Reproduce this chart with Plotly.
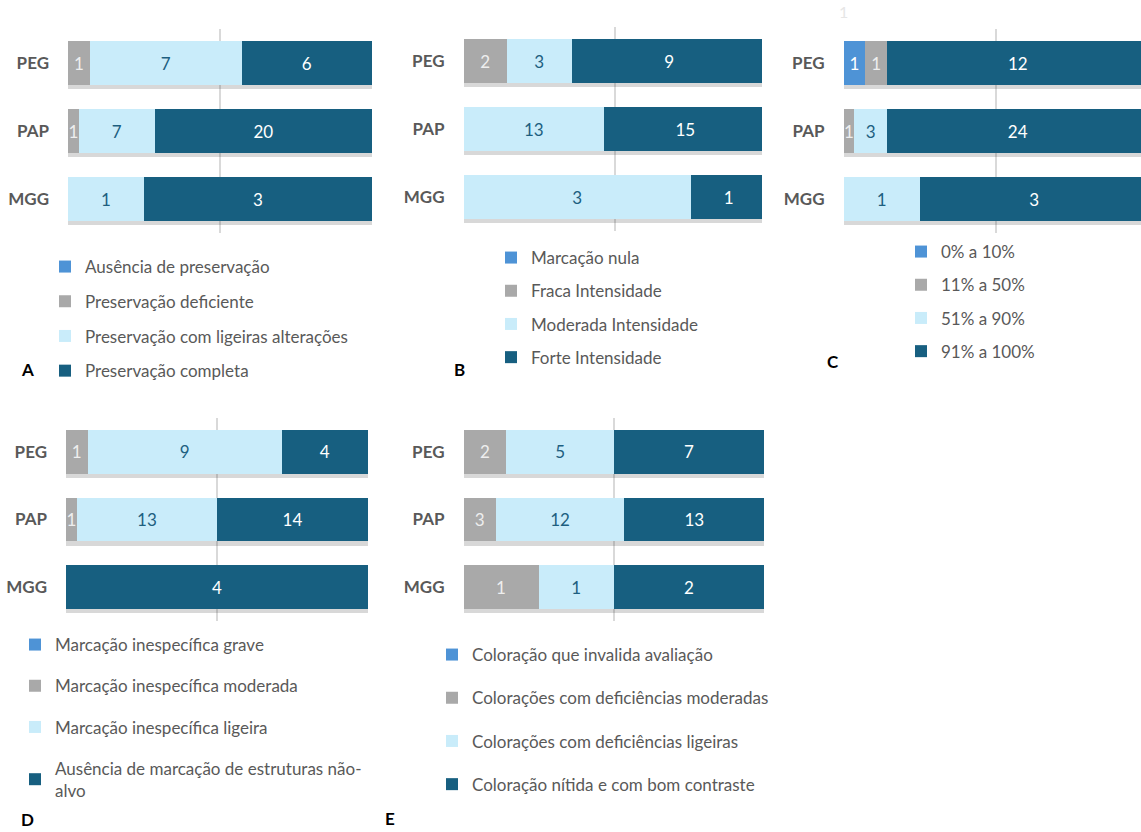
import plotly.graph_objects as go

W, H = 1141, 832
FONT = "Lato"
TEXT_GREY = "#595959"

# Rows of every panel, listed top to bottom
groups = ["PEG", "PAP", "MGG"]

# Segment colours: blue, grey, light blue, dark blue
colors = ["#4E93D6", "#A9A9A9", "#C9ECFA", "#175F80"]
label_colors = ["#FFFFFF", "#EEEEEE", "#1D5F80", "#FFFFFF"]

# Panel A
a_names = ["Ausência de preservação", "Preservação deficiente",
           "Preservação com ligeiras alterações", "Preservação completa"]
a_blue = [0, 0, 0]
a_grey = [1, 1, 0]
a_light = [7, 7, 1]
a_dark = [6, 20, 3]

# Panel B
b_names = ["Marcação nula", "Fraca Intensidade",
           "Moderada Intensidade", "Forte Intensidade"]
b_blue = [0, 0, 0]
b_grey = [2, 0, 0]
b_light = [3, 13, 3]
b_dark = [9, 15, 1]

# Panel C
c_names = ["0% a 10%", "11% a 50%", "51% a 90%", "91% a 100%"]
c_blue = [1, 0, 0]
c_grey = [1, 1, 0]
c_light = [0, 3, 1]
c_dark = [12, 24, 3]

# Panel D
d_names = ["Marcação inespecífica grave", "Marcação inespecífica moderada",
           "Marcação inespecífica ligeira",
           "Ausência de marcação de estruturas não-<br>alvo"]
d_blue = [0, 0, 0]
d_grey = [1, 1, 0]
d_light = [9, 13, 0]
d_dark = [4, 14, 4]

# Panel E
e_names = ["Coloração que invalida avaliação",
           "Colorações com deficiências moderadas",
           "Colorações com deficiências ligeiras",
           "Coloração nítida e com bom contraste"]
e_blue = [0, 0, 0]
e_grey = [2, 3, 1]
e_light = [5, 12, 1]
e_dark = [7, 13, 2]

panels = [
    dict(tag="A", names=a_names, series=[a_blue, a_grey, a_light, a_dark],
         xpx=(68, 372), xmax=100, ypx=(29, 233),
         leg=(45, 249), gap=9.6, letter=(27, 369)),
    dict(tag="B", names=b_names, series=[b_blue, b_grey, b_light, b_dark],
         xpx=(463.5, 762), xmax=100 * (762 - 463.5) / 303, ypx=(27, 231),
         leg=(491, 240), gap=8.1, letter=(459, 369)),
    dict(tag="C", names=c_names, series=[c_blue, c_grey, c_light, c_dark],
         xpx=(843.5, 1141), xmax=100 * (1141 - 843.5) / 305, ypx=(29, 233),
         leg=(901, 234), gap=8.1, letter=(833, 361)),
    dict(tag="D", names=d_names, series=[d_blue, d_grey, d_light, d_dark],
         xpx=(66, 368), xmax=100, ypx=(418, 621),
         leg=(15, 627), gap=16.1, letter=(27, 819)),
    dict(tag="E", names=e_names, series=[e_blue, e_grey, e_light, e_dark],
         xpx=(463.5, 764), xmax=100, ypx=(418, 621),
         leg=(432, 637), gap=18.1, letter=(390, 818)),
]

BAR_W = 0.65
SHADOW_SHIFT = 0.06

fig = go.Figure()
layout = dict(
    width=W, height=H, margin=dict(l=0, r=0, t=0, b=0),
    paper_bgcolor="white", plot_bgcolor="rgba(0,0,0,0)",
    barmode="stack", barnorm="percent",
    uniformtext=dict(minsize=17, mode="show"),
    font=dict(family=FONT, color=TEXT_GREY),
    showlegend=True,
)
annotations = []
n = len(panels)

for i, p in enumerate(panels, start=1):
    xa = f"x{i}" if i > 1 else "x"
    ya = f"y{i}" if i > 1 else "y"
    xo = f"x{i + n}"
    leg = "legend" if i == 1 else f"legend{i}"

    x0, x1 = p["xpx"]
    ytop, ybot = p["ypx"]

    # base axes carry the grid and a soft shadow under each bar
    layout[f"xaxis{i if i > 1 else ''}"] = dict(
        domain=[x0 / W, x1 / W], range=[0, p["xmax"]], anchor=ya,
        tickvals=[0, 50, 100], showticklabels=False, ticks="",
        showgrid=True, gridcolor="#D9D9D9", gridwidth=1.5,
        zeroline=False, showline=False, fixedrange=True)
    layout[f"yaxis{i if i > 1 else ''}"] = dict(
        domain=[1 - ybot / H, 1 - ytop / H], anchor=xa, type="category",
        categoryorder="array", categoryarray=groups[::-1],
        range=[-0.5, 2.5], showgrid=False, zeroline=False, showline=False,
        ticks="", ticklabelstandoff=18,
        tickfont=dict(family=FONT, size=17, color=TEXT_GREY, weight="bold"))
    # overlay x axis that holds the stacked segments, drawn above the shadow
    layout[f"xaxis{i + n}"] = dict(
        overlaying=xa, anchor=ya, range=[0, p["xmax"]], visible=False,
        showgrid=False, zeroline=False, fixedrange=True)

    totals = [sum(s[k] for s in p["series"]) for k in range(len(groups))]
    fig.add_trace(go.Bar(
        y=groups, x=totals, orientation="h", xaxis=xa, yaxis=ya,
        width=BAR_W, offset=-BAR_W / 2 - SHADOW_SHIFT,
        marker=dict(color="rgba(60,60,60,0.2)", line=dict(width=0)),
        showlegend=False, hoverinfo="skip"))

    layout[leg] = dict(
        x=p["leg"][0] / W, xanchor="left", y=1 - p["leg"][1] / H,
        yanchor="top", bgcolor="rgba(0,0,0,0)", traceorder="grouped",
        tracegroupgap=p["gap"], font=dict(family=FONT, size=17, color=TEXT_GREY))

    for j, (name, vals) in enumerate(zip(p["names"], p["series"])):
        fig.add_trace(go.Bar(
            y=groups, x=vals, orientation="h", xaxis=xo, yaxis=ya,
            name=name, legend=leg, legendgroup=f"{p['tag']}{j}",
            width=BAR_W, marker=dict(color=colors[j], line=dict(width=0)),
            text=[str(v) if v > 0 else "" for v in vals],
            textposition="inside", insidetextanchor="middle", textangle=0,
            textfont=dict(family=FONT, size=17, color=label_colors[j]),
            hoverinfo="name+x"))

    annotations.append(dict(
        text=p["tag"], x=p["letter"][0] / W, y=1 - p["letter"][1] / H,
        xref="paper", yref="paper", showarrow=False, xanchor="center",
        yanchor="middle", font=dict(family=FONT, size=17, color="black",
                                    weight="bold")))

# faint stray value label above panel C
annotations.append(dict(
    text="1", x=843 / W, y=1 - 12 / H, xref="paper", yref="paper",
    showarrow=False, xanchor="center", yanchor="middle",
    font=dict(family=FONT, size=16, color="#E6E6E6")))

layout["annotations"] = annotations
fig.update_layout(**layout)
fig.write_html("out.html")
